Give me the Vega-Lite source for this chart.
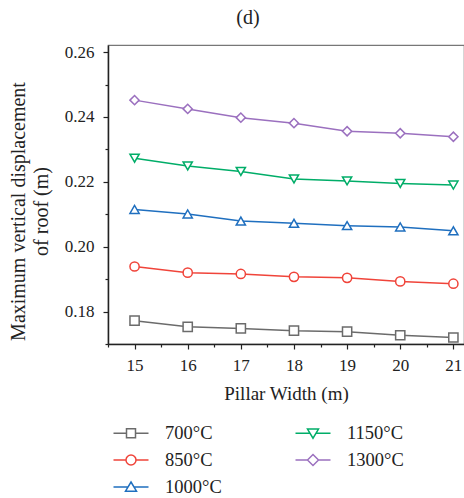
{
  "$schema": "https://vega.github.io/schema/vega-lite/v6.json",
  "autosize": {"type": "none"},
  "padding": {"left": 108, "top": 45, "right": 0, "bottom": 154},
  "width": 356,
  "height": 299,
  "background": "white",
  "config": {
    "font": "Liberation Serif",
    "view": {"stroke": "#777", "strokeWidth": 1.2},
    "axis": {"labelFont": "Liberation Serif", "titleFont": "Liberation Serif", "labelColor": "#222", "titleColor": "#222", "titleFontWeight": "normal", "domainColor": "#222", "tickColor": "#222", "domainWidth": 1.5, "tickWidth": 1.2, "grid": false}
  },
  "title": {"text": "(d)", "font": "Liberation Serif", "fontSize": 20, "fontWeight": "normal", "color": "#222", "dx": -38, "offset": 15},
  "data": {"values": [
    {"w": 15, "T": "700°C", "d": 0.1772}, {"w": 16, "T": "700°C", "d": 0.1753}, {"w": 17, "T": "700°C", "d": 0.1748}, {"w": 18, "T": "700°C", "d": 0.1741}, {"w": 19, "T": "700°C", "d": 0.1738}, {"w": 20, "T": "700°C", "d": 0.1727}, {"w": 21, "T": "700°C", "d": 0.1720},
    {"w": 15, "T": "850°C", "d": 0.1939}, {"w": 16, "T": "850°C", "d": 0.1920}, {"w": 17, "T": "850°C", "d": 0.1916}, {"w": 18, "T": "850°C", "d": 0.1907}, {"w": 19, "T": "850°C", "d": 0.1904}, {"w": 20, "T": "850°C", "d": 0.1893}, {"w": 21, "T": "850°C", "d": 0.1886},
    {"w": 15, "T": "1000°C", "d": 0.2115}, {"w": 16, "T": "1000°C", "d": 0.2101}, {"w": 17, "T": "1000°C", "d": 0.2079}, {"w": 18, "T": "1000°C", "d": 0.2072}, {"w": 19, "T": "1000°C", "d": 0.2065}, {"w": 20, "T": "1000°C", "d": 0.2061}, {"w": 21, "T": "1000°C", "d": 0.2049},
    {"w": 15, "T": "1150°C", "d": 0.2273}, {"w": 16, "T": "1150°C", "d": 0.2249}, {"w": 17, "T": "1150°C", "d": 0.2232}, {"w": 18, "T": "1150°C", "d": 0.2209}, {"w": 19, "T": "1150°C", "d": 0.2203}, {"w": 20, "T": "1150°C", "d": 0.2195}, {"w": 21, "T": "1150°C", "d": 0.2190},
    {"w": 15, "T": "1300°C", "d": 0.2452}, {"w": 16, "T": "1300°C", "d": 0.2425}, {"w": 17, "T": "1300°C", "d": 0.2398}, {"w": 18, "T": "1300°C", "d": 0.2381}, {"w": 19, "T": "1300°C", "d": 0.2356}, {"w": 20, "T": "1300°C", "d": 0.2350}, {"w": 21, "T": "1300°C", "d": 0.2339}
  ]},
  "encoding": {
    "x": {"field": "w", "type": "quantitative", "title": "Pillar Width (m)",
      "scale": {"domain": [14.5, 21.2], "nice": false, "zero": false},
      "axis": {"values": [14.5, 15, 15.5, 16, 16.5, 17, 17.5, 18, 18.5, 19, 19.5, 20, 20.5, 21],
        "labelExpr": "datum.value % 1 == 0 ? format(datum.value, 'd') : ''",
        "tickSize": {"condition": {"test": "datum.value % 1 == 0", "value": 5}, "value": 3},
        "labelFontSize": 17, "titleFontSize": 19, "labelPadding": 8, "titlePadding": 11, "labelFlush": false}},
    "y": {"field": "d", "type": "quantitative", "title": ["Maximum vertical displacement", "of roof (m)"],
      "scale": {"domain": [0.17, 0.2622], "nice": false, "zero": false},
      "axis": {"values": [0.17, 0.18, 0.19, 0.2, 0.21, 0.22, 0.23, 0.24, 0.25, 0.26],
        "labelExpr": "round(datum.value * 100) % 2 == 0 ? format(datum.value, '.2f') : ''",
        "tickSize": {"condition": {"test": "round(datum.value * 100) % 2 == 0", "value": 5}, "value": 3},
        "labelFontSize": 17, "titleFontSize": 20, "labelPadding": 9, "titlePadding": 13, "titleLineHeight": 23, "titleY": 166, "labelFlush": false}},
    "color": {"field": "T", "type": "nominal",
      "scale": {"domain": ["700°C", "1150°C", "850°C", "1300°C", "1000°C"], "range": ["#6b6b6b", "#00ad68", "#f0443a", "#9b70bf", "#1f6fbf"]},
      "legend": {"title": null, "orient": "none", "legendX": 12, "legendY": 377, "columns": 2, "direction": "horizontal",
        "padding": 0, "symbolSize": 400, "symbolStrokeWidth": 1.5, "symbolFillColor": "white",
        "labelFont": "Liberation Serif", "labelFontSize": 18.5, "labelColor": "#222", "labelOffset": 23,
        "columnPadding": 70, "rowPadding": 6,
        "encode": {"symbols": {"update": {"fill": {"value": "white"}, "shape": {"signal": "datum.value === '700°C' ? 'M-1.75,0H-0.45M0.45,0H1.75M-0.45,-0.45H0.45V0.45H-0.45Z' : datum.value === '850°C' ? 'M-1.75,0H-0.5M0.5,0H1.75M-0.5,0A0.5,0.5,0,1,0,0.5,0A0.5,0.5,0,1,0,-0.5,0Z' : datum.value === '1000°C' ? 'M-1.75,0H-0.3M0.3,0H1.75M0,-0.5L0.55,0.42H-0.55Z' : datum.value === '1150°C' ? 'M-1.75,0H-0.3M0.3,0H1.75M-0.55,-0.42H0.55L0,0.5Z' : 'M-1.75,0H-0.55M0.55,0H1.75M-0.55,0L0,-0.55L0.55,0L0,0.55Z'"}}}}}
    }
  },
  "layer": [
    {"mark": {"type": "line", "strokeWidth": 1.5}},
    {"mark": {"type": "point", "filled": false, "fill": "white", "strokeWidth": 1.5, "size": 85, "opacity": 1},
      "encoding": {"shape": {"field": "T", "type": "nominal", "legend": null,
        "scale": {"domain": ["700°C", "850°C", "1000°C", "1150°C", "1300°C"], "range": ["square", "circle", "triangle-up", "triangle-down", "diamond"]}}}}
  ]
}
